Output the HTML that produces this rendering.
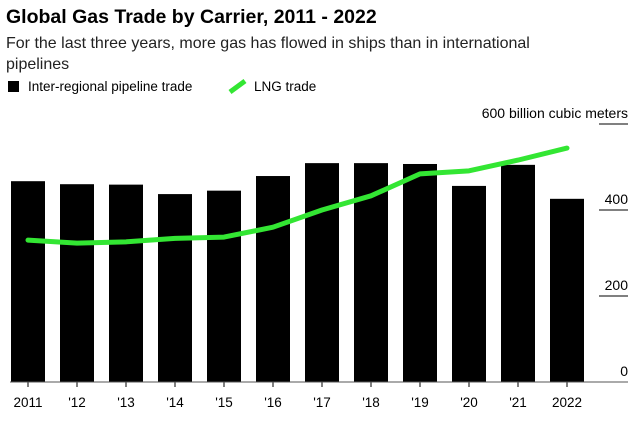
<!DOCTYPE html>
<html><head><meta charset="utf-8"><style>
body{margin:0;width:638px;height:417px;background:#fff;font-family:"Liberation Sans",Arial,sans-serif;overflow:hidden}
</style></head><body>
<svg width="638" height="417" viewBox="0 0 638 417" xmlns="http://www.w3.org/2000/svg">
<text x="6" y="23" font-size="19.5" font-weight="bold" fill="#000">Global Gas Trade by Carrier, 2011 - 2022</text>
<text x="6" y="48" font-size="16" fill="#222">For the last three years, more gas has flowed in ships than in international</text>
<text x="6" y="69" font-size="16" fill="#222">pipelines</text>
<g><rect x="8" y="81" width="11" height="11" fill="#000"/><text x="28" y="91" font-size="13.5" fill="#000">Inter-regional pipeline trade</text></g>
<g><line x1="230" y1="92" x2="245" y2="81" stroke="#33e633" stroke-width="5"/><text x="254" y="91" font-size="13.5" fill="#000">LNG trade</text></g>
<g id="grid"></g><g id="bars"></g><g id="line"></g><g id="axis"></g>
</svg>
<script>
const categories=["2011","'12","'13","'14","'15","'16","'17","'18","'19","'20","'21","2022"];
const pipeline=[467,460,459,437,445,479,509,509,507,456,505,426];
const lng=[330,323,326,334,337,360,400,433,484,491,516,544];
const yTicks=[0,200,400,600];
const yTickLabels=["0","200","400","600 billion cubic meters"];
const NS="http://www.w3.org/2000/svg";
const y0=382,ppu=0.43;
const yScale=v=>y0-v*ppu;
const xScale=i=>28+i*49;
function mk(t,a,p){const e=document.createElementNS(NS,t);for(const k in a)e.setAttribute(k,a[k]);document.getElementById(p).appendChild(e);return e;}
yTicks.forEach((v,i)=>{
 const y=yScale(v);
 if(v>0){const l=mk('line',{x1:599,x2:628,y1:y,y2:y,stroke:'#000','stroke-width':1},'grid');
 
 }
 const t=mk('text',{x:628,y:y-6,'font-size':14,'text-anchor':'end',fill:'#000'},'grid');
 t.textContent=yTickLabels[i];
 
 
});
pipeline.forEach((v,i)=>{
 const r=mk('rect',{x:xScale(i)-17,y:yScale(v),width:34,height:v*ppu,fill:'#000'},'bars');
 
 
 const tk=mk('line',{x1:xScale(i),x2:xScale(i),y1:y0,y2:y0+5,stroke:'#000'},'axis');
 
 
 const t=mk('text',{x:xScale(i),y:407,'font-size':13.5,'text-anchor':'middle',fill:'#000'},'axis');
 t.textContent=categories[i];
 
 
});
const base=mk('line',{x1:10,x2:628,y1:y0,y2:y0,stroke:'#555','stroke-width':1},'axis');


const pts=lng.map((v,i)=>xScale(i)+','+yScale(v)).join(' ');
const pl=mk('polyline',{points:pts,fill:'none',stroke:'#33e633','stroke-width':5,'stroke-linejoin':'round','stroke-linecap':'round'},'line');


</script>
</body></html>
